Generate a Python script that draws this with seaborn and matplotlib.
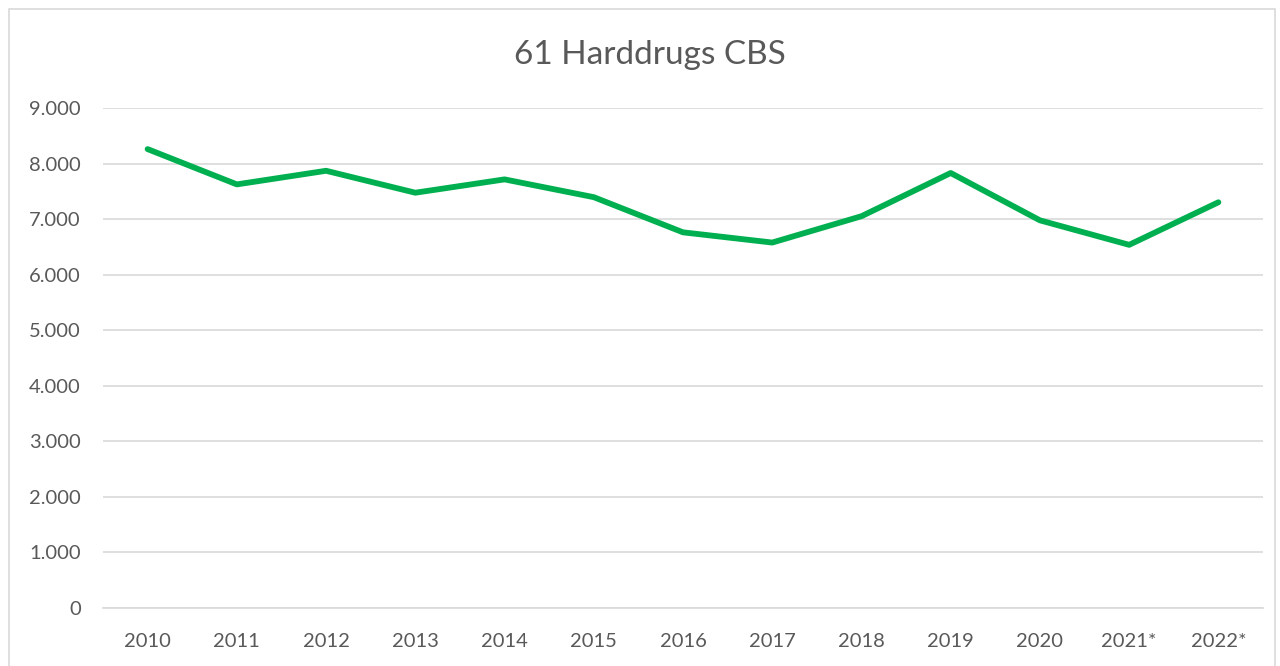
import matplotlib
matplotlib.use("Agg")
import matplotlib.pyplot as plt
import matplotlib.ticker as mticker
from matplotlib.patches import Rectangle
import seaborn as sns
import pandas as pd

years = ["2010", "2011", "2012", "2013", "2014", "2015", "2016",
         "2017", "2018", "2019", "2020", "2021*", "2022*"]
counts = [8260, 7625, 7870, 7475, 7715, 7395, 6762,
          6578, 7052, 7830, 6978, 6537, 7303]
y_ticks = [0, 1000, 2000, 3000, 4000, 5000, 6000, 7000, 8000, 9000]

df = pd.DataFrame({"jaar": years, "aantal": counts})

sns.set_style("white")
plt.rcParams["font.family"] = ["Lato", "DejaVu Sans"]

text_col = "#595959"
grid_col = "#d9d9d9"

fig = plt.figure(figsize=(12.8, 6.66), dpi=100)
ax = fig.add_axes([103 / 1280, 1 - 608 / 666, 1160 / 1280, 500 / 666])

sns.lineplot(data=df, x="jaar", y="aantal", ax=ax, color="#00b050",
             linewidth=4.2, sort=False, solid_capstyle="round")

ax.set_xlim(-0.5, len(years) - 0.5)
ax.set_ylim(0, 9000)
ax.set_yticks(y_ticks)
ax.yaxis.set_major_formatter(
    mticker.FuncFormatter(lambda v, _: f"{int(v):,}".replace(",", ".")))
ax.grid(axis="y", color=grid_col, linewidth=1.2)
ax.set_axisbelow(True)
for side in ["top", "right", "left"]:
    ax.spines[side].set_visible(False)
ax.spines["bottom"].set_color(grid_col)
ax.spines["bottom"].set_linewidth(1.2)
ax.tick_params(axis="both", length=0, labelsize=14.5, colors=text_col)
ax.tick_params(axis="x", pad=18)
ax.tick_params(axis="y", pad=16)
ax.set_xlabel("")
ax.set_ylabel("")

fig.text(650 / 1280, 1 - 55 / 666, "61 Harddrugs CBS", ha="center",
         va="center", fontsize=24, color=text_col)

# chart frame
fig.patches.append(Rectangle((9 / 1280, -0.05), 1266 / 1280, 1.05 - 9 / 666,
                             transform=fig.transFigure, fill=False,
                             edgecolor=grid_col, linewidth=1.2))

plt.savefig("out.png", dpi=100)
plt.close()
